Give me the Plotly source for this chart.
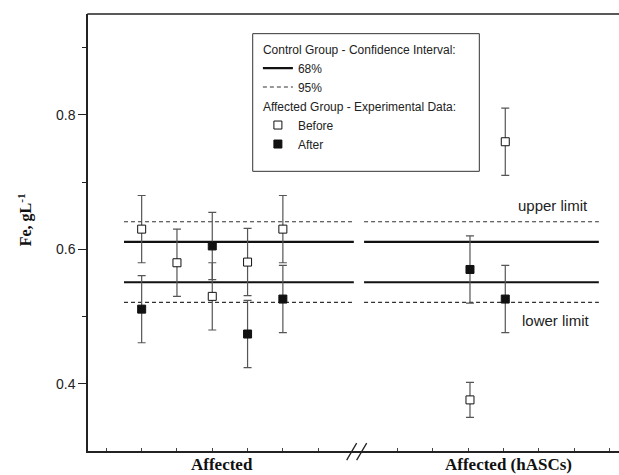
import plotly.graph_objects as go

# ---- data ----
x_before = [1, 2, 3, 4, 5, 10.3, 11.3]
fe_before = [0.630, 0.580, 0.530, 0.581, 0.630, 0.376, 0.760]
err_before = [0.050, 0.050, 0.050, 0.050, 0.050, 0.026, 0.050]

x_after = [1, 3, 4, 5, 10.3, 11.3]
fe_after = [0.511, 0.605, 0.474, 0.526, 0.570, 0.526]
err_after = [0.050, 0.050, 0.050, 0.050, 0.050, 0.050]

ci68 = [0.551, 0.611]
ci95 = [0.521, 0.641]
seg_left = [0.5, 7.01]
seg_right = [7.3, 13.95]

tick_left = [0, 1, 2, 3, 4, 5, 6]
tick_right = [8.25, 9.25, 10.25, 11.25, 12.25, 13.25, 14.25]
group_labels = ["Affected", "Affected (hASCs)"]
group_label_x = [3.27, 11.38]


def level_lines(levels):
    xs, ys = [], []
    for lv in levels:
        for seg in (seg_left, seg_right):
            xs += [seg[0], seg[1], None]
            ys += [lv, lv, None]
    return xs, ys


fig = go.Figure()

x68, y68 = level_lines(ci68)
x95, y95 = level_lines(ci95)

fig.add_trace(go.Scatter(
    x=x68, y=y68, mode="lines", name="68%",
    line=dict(color="#111111", width=2.2),
    legendgroup="ctrl", legendgrouptitle_text="Control Group - Confidence Interval:",
))
fig.add_trace(go.Scatter(
    x=x95, y=y95, mode="lines", name="95%",
    line=dict(color="#333333", width=1.1, dash="4px,3px"),
    legendgroup="ctrl",
))
fig.add_trace(go.Scatter(
    x=x_before, y=fe_before, mode="markers", name="Before",
    marker=dict(symbol="square", size=8, color="white",
                line=dict(color="#111111", width=1)),
    error_y=dict(type="data", array=err_before, color="#555555",
                 thickness=1.2, width=4),
    legendgroup="exp", legendgrouptitle_text="Affected Group - Experimental Data:",
))
fig.add_trace(go.Scatter(
    x=x_after, y=fe_after, mode="markers", name="After",
    marker=dict(symbol="square", size=8, color="#111111",
                line=dict(color="#111111", width=1)),
    error_y=dict(type="data", array=err_after, color="#555555",
                 thickness=1.2, width=4),
    legendgroup="exp",
))

# top frame line
fig.add_shape(type="line", xref="paper", yref="paper", x0=-0.0013, x1=1.0,
              y0=1, y1=1, line=dict(color="#222222", width=1.5))

# axis break marks "//"
for x0, x1 in [(6.807, 7.09), (7.09, 7.374)]:
    fig.add_shape(type="line", xref="x", yref="paper",
                  x0=x0, y0=-0.021, x1=x1, y1=0.018,
                  line=dict(color="#222222", width=1.3))

# legend frame
fig.add_shape(type="rect", xref="paper", yref="paper",
              x0=0.2984, x1=0.7089, y0=0.640, y1=0.955,
              line=dict(color="#333333", width=1), fillcolor="white",
              layer="above")

for lbl, lx in zip(group_labels, group_label_x):
    fig.add_annotation(x=lx, y=0, xref="x", yref="paper", yanchor="top",
                       yshift=-2, text="<b>" + lbl + "</b>", showarrow=False,
                       font=dict(family="Liberation Serif", size=17, color="#111111"))

# y-axis title
fig.add_annotation(x=0, y=0.528, xref="paper", yref="paper", xanchor="center",
                   yanchor="middle", xshift=-63, textangle=-90, showarrow=False,
                   text="<b>Fe, gL<sup>-1</sup></b>",
                   font=dict(family="Liberation Serif", size=16, color="#111111"))

fig.add_annotation(x=12.65, y=0.665, text="upper limit", showarrow=False,
                   font=dict(family="Liberation Sans", size=15, color="#222222"))
fig.add_annotation(x=12.74, y=0.494, text="lower limit", showarrow=False,
                   font=dict(family="Liberation Sans", size=15, color="#222222"))

fig.update_layout(
    width=640, height=475,
    margin=dict(l=88, r=0, t=13.5, b=24),
    plot_bgcolor="white", paper_bgcolor="white",
    font=dict(family="Liberation Sans", size=12, color="#222222"),
    showlegend=True,
    legend=dict(
        x=0.3078, y=0.953, xanchor="left", yanchor="top",
        borderwidth=0, bgcolor="rgba(0,0,0,0)",
        font=dict(family="Liberation Sans", size=12, color="#222222"),
        grouptitlefont=dict(family="Liberation Sans", size=12, color="#222222"),
        tracegroupgap=0, traceorder="grouped",
    ),
)

fig.update_xaxes(
    range=[-0.52, 15.116], showgrid=False, zeroline=False,
    showline=True, linecolor="#222222", linewidth=1.5, mirror=False,
    tickvals=tick_left + tick_right, ticks="inside", ticklen=3,
    tickcolor="#444444", showticklabels=False,
)
fig.update_yaxes(
    range=[0.3, 0.95], showgrid=False, zeroline=False,
    showline=True, linecolor="#222222", linewidth=1.5, mirror=False,
    tickvals=[0.4, 0.6, 0.8], ticktext=["0.4", "0.6", "0.8"],
    ticks="outside", ticklen=8, tickwidth=1.2, tickcolor="#222222",
    tickfont=dict(family="Liberation Sans", size=14, color="#222222"),
    minor=dict(tickvals=[0.5, 0.7, 0.9], ticks="outside", ticklen=4,
               tickwidth=1.2, tickcolor="#222222"),
)

fig.write_html(
    "out.html",
    config={"displayModeBar": False},
    post_script="document.body.style.margin='0';document.body.style.overflow='hidden';",
)
